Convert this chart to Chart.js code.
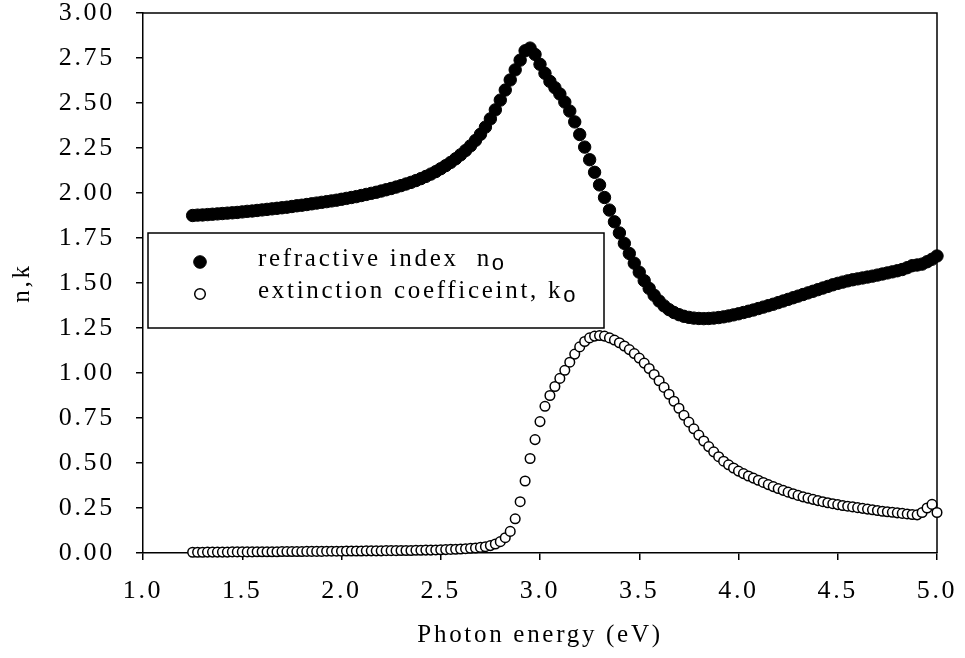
<!DOCTYPE html>
<html>
<head>
<meta charset="utf-8">
<script src="https://cdn.jsdelivr.net/npm/chart.js@4.4.1/dist/chart.umd.min.js"></script>
<style>
  html, body { margin: 0; padding: 0; background: #fff; }
  canvas { display: block; }
</style>
</head>
<body>
<canvas id="chart" width="965" height="658"></canvas>
<script>
// Photon energy grid (eV)
const photonEnergy = [
  1.250, 1.275, 1.300, 1.325, 1.350, 1.375, 1.400, 1.425, 1.450, 1.475,
  1.500, 1.525, 1.550, 1.575, 1.600, 1.625, 1.650, 1.675, 1.700, 1.725,
  1.750, 1.775, 1.800, 1.825, 1.850, 1.875, 1.900, 1.925, 1.950, 1.975,
  2.000, 2.025, 2.050, 2.075, 2.100, 2.125, 2.150, 2.175, 2.200, 2.225,
  2.250, 2.275, 2.300, 2.325, 2.350, 2.375, 2.400, 2.425, 2.450, 2.475,
  2.500, 2.525, 2.550, 2.575, 2.600, 2.625, 2.650, 2.675, 2.700, 2.725,
  2.750, 2.775, 2.800, 2.825, 2.850, 2.875, 2.900, 2.925, 2.950, 2.975,
  3.000, 3.025, 3.050, 3.075, 3.100, 3.125, 3.150, 3.175, 3.200, 3.225,
  3.250, 3.275, 3.300, 3.325, 3.350, 3.375, 3.400, 3.425, 3.450, 3.475,
  3.500, 3.525, 3.550, 3.575, 3.600, 3.625, 3.650, 3.675, 3.700, 3.725,
  3.750, 3.775, 3.800, 3.825, 3.850, 3.875, 3.900, 3.925, 3.950, 3.975,
  4.000, 4.025, 4.050, 4.075, 4.100, 4.125, 4.150, 4.175, 4.200, 4.225,
  4.250, 4.275, 4.300, 4.325, 4.350, 4.375, 4.400, 4.425, 4.450, 4.475,
  4.500, 4.525, 4.550, 4.575, 4.600, 4.625, 4.650, 4.675, 4.700, 4.725,
  4.750, 4.775, 4.800, 4.825, 4.850, 4.875, 4.900, 4.925, 4.950, 4.975,
  5.000
];

// Ordinary refractive index n_o
const refractiveIndex = [
  1.875, 1.877, 1.878, 1.880, 1.882, 1.884, 1.886, 1.888, 1.890, 1.892,
  1.895, 1.898, 1.900, 1.903, 1.906, 1.909, 1.912, 1.915, 1.918, 1.921,
  1.925, 1.929, 1.932, 1.936, 1.940, 1.944, 1.948, 1.952, 1.956, 1.960,
  1.965, 1.970, 1.975, 1.980, 1.986, 1.992, 1.998, 2.004, 2.011, 2.018,
  2.025, 2.033, 2.041, 2.050, 2.059, 2.069, 2.080, 2.092, 2.105, 2.119,
  2.135, 2.152, 2.170, 2.190, 2.212, 2.236, 2.262, 2.292, 2.326, 2.366,
  2.412, 2.462, 2.516, 2.572, 2.628, 2.684, 2.738, 2.790, 2.805, 2.770,
  2.715, 2.665, 2.620, 2.585, 2.550, 2.505, 2.455, 2.395, 2.325, 2.255,
  2.185, 2.115, 2.045, 1.975, 1.905, 1.840, 1.778, 1.720, 1.664, 1.610,
  1.560, 1.513, 1.470, 1.432, 1.400, 1.373, 1.352, 1.336, 1.324, 1.315,
  1.309, 1.305, 1.303, 1.302, 1.303, 1.305, 1.308, 1.312, 1.317, 1.323,
  1.329, 1.336, 1.343, 1.350, 1.358, 1.366, 1.374, 1.382, 1.391, 1.400,
  1.409, 1.418, 1.427, 1.436, 1.445, 1.454, 1.463, 1.472, 1.481, 1.490,
  1.498, 1.505, 1.512, 1.518, 1.523, 1.528, 1.533, 1.538, 1.544, 1.550,
  1.556, 1.562, 1.568, 1.575, 1.585, 1.596, 1.600, 1.605, 1.618, 1.632,
  1.650
];

// Ordinary extinction coefficient k_o
const extinctionCoeff = [
  0.004, 0.004, 0.004, 0.005, 0.005, 0.005, 0.005, 0.005, 0.006, 0.006,
  0.006, 0.006, 0.006, 0.007, 0.007, 0.007, 0.007, 0.007, 0.008, 0.008,
  0.008, 0.008, 0.008, 0.009, 0.009, 0.009, 0.009, 0.010, 0.010, 0.010,
  0.010, 0.011, 0.011, 0.011, 0.011, 0.012, 0.012, 0.012, 0.012, 0.013,
  0.013, 0.013, 0.014, 0.014, 0.014, 0.015, 0.015, 0.016, 0.016, 0.017,
  0.018, 0.019, 0.020, 0.021, 0.022, 0.024, 0.026, 0.028, 0.031, 0.035,
  0.041, 0.050, 0.063, 0.085, 0.120, 0.190, 0.285, 0.400, 0.525, 0.630,
  0.730, 0.815, 0.875, 0.925, 0.970, 1.015, 1.060, 1.105, 1.145, 1.175,
  1.195, 1.205, 1.208, 1.205, 1.195, 1.183, 1.168, 1.150, 1.130, 1.108,
  1.083, 1.055, 1.025, 0.992, 0.957, 0.920, 0.882, 0.843, 0.804, 0.765,
  0.727, 0.690, 0.655, 0.622, 0.591, 0.562, 0.535, 0.510, 0.490, 0.472,
  0.455, 0.441, 0.428, 0.416, 0.404, 0.392, 0.380, 0.369, 0.358, 0.348,
  0.338, 0.329, 0.320, 0.312, 0.305, 0.298, 0.291, 0.285, 0.279, 0.274,
  0.269, 0.264, 0.260, 0.256, 0.252, 0.248, 0.244, 0.240, 0.236, 0.232,
  0.229, 0.226, 0.223, 0.220, 0.217, 0.214, 0.212, 0.225, 0.250, 0.270,
  0.225
];

// Axis tick values
const xTickValues = [1.0, 1.5, 2.0, 2.5, 3.0, 3.5, 4.0, 4.5, 5.0];
const yTickValues = [0, 0.25, 0.5, 0.75, 1.0, 1.25, 1.5, 1.75, 2.0, 2.25, 2.5, 2.75, 3.0];

// Legend entries: main label plus subscript
const legendLabels = ['refractive index  n', 'extinction coefficeint, k'];
const legendSubscripts = ['o', 'o'];

const SERIF = "'Liberation Serif', 'Times New Roman', serif";
const SPACING = '2.7px';

const toPoints = (ys) => photonEnergy.map((x, i) => ({ x, y: ys[i] }));

// Scale boxes are sized by hand; no extra room for overhanging end labels
function fixBox(scale, w, h) {
  if (w !== null) scale.width = w;
  if (h !== null) scale.height = h;
  scale.paddingTop = 0;
  scale.paddingBottom = 0;
  scale.paddingLeft = 0;
  scale.paddingRight = 0;
}

// Wide letter spacing for all canvas text
const spacingPlugin = {
  id: 'spacing',
  beforeLayout(chart) { chart.ctx.letterSpacing = SPACING; },
  beforeDraw(chart) { chart.ctx.letterSpacing = SPACING; }
};

// Top and right edges of the plot frame
const framePlugin = {
  id: 'frame',
  beforeDatasetsDraw(chart) {
    const { ctx, chartArea: a } = chart;
    ctx.save();
    ctx.strokeStyle = '#000';
    ctx.lineWidth = 1.5;
    ctx.beginPath();
    ctx.moveTo(a.left, a.top);
    ctx.lineTo(a.right, a.top);
    ctx.lineTo(a.right, a.bottom);
    ctx.stroke();
    ctx.restore();
  }
};

// Boxed legend inside the plot
const legendPlugin = {
  id: 'boxLegend',
  afterDatasetsDraw(chart) {
    const { ctx } = chart;
    const box = { x: 148, y: 233, w: 456, h: 95 };
    const rows = [262, 294];
    ctx.save();
    ctx.letterSpacing = SPACING;
    ctx.fillStyle = '#fff';
    ctx.fillRect(box.x, box.y, box.w, box.h);
    ctx.strokeStyle = '#000';
    ctx.lineWidth = 1.5;
    ctx.strokeRect(box.x, box.y, box.w, box.h);

    chart.data.datasets.forEach((ds, i) => {
      const cy = rows[i];
      ctx.beginPath();
      ctx.arc(200, cy, i === 0 ? 6.3 : 5.3, 0, Math.PI * 2);
      ctx.fillStyle = ds.backgroundColor;
      ctx.fill();
      ctx.lineWidth = ds.borderWidth;
      ctx.strokeStyle = '#000';
      ctx.stroke();

      ctx.fillStyle = '#000';
      ctx.textBaseline = 'alphabetic';
      ctx.textAlign = 'left';
      ctx.font = '25px ' + SERIF;
      const base = cy + 4;
      ctx.fillText(legendLabels[i], 258, base);
      const w = ctx.measureText(legendLabels[i]).width;
      ctx.font = "22px 'Liberation Sans', Arial, sans-serif";
      ctx.fillText(legendSubscripts[i], 258 + w, base + 4);
    });
    ctx.restore();
  }
};

new Chart(document.getElementById('chart'), {
  type: 'scatter',
  data: {
    datasets: [
      {
        label: 'refractive index no',
        data: toPoints(refractiveIndex),
        pointStyle: 'circle',
        pointRadius: 6.2,
        backgroundColor: '#000',
        borderColor: '#000',
        borderWidth: 1,
        clip: false
      },
      {
        label: 'extinction coefficeint, ko',
        data: toPoints(extinctionCoeff),
        pointStyle: 'circle',
        pointRadius: 4.8,
        backgroundColor: '#fff',
        borderColor: '#000',
        borderWidth: 1.5,
        clip: false
      }
    ]
  },
  options: {
    responsive: false,
    animation: false,
    events: [],
    layout: { padding: { top: 13, right: 28, left: 0, bottom: 0 } },
    plugins: {
      legend: { display: false },
      tooltip: { enabled: false }
    },
    scales: {
      x: {
        type: 'linear',
        min: 1,
        max: 5,
        afterBuildTicks(scale) { scale.ticks = xTickValues.map(v => ({ value: v })); },
        afterFit(scale) { fixBox(scale, null, 105); },
        ticks: {
          autoSkip: false,
          maxRotation: 0,
          padding: 16,
          color: '#000',
          font: { family: SERIF, size: 26 },
          callback: (v) => Number(v).toFixed(1)
        },
        grid: {
          drawOnChartArea: false,
          drawTicks: true,
          tickLength: 7,
          color: '#000',
          lineWidth: 1.5
        },
        border: { display: true, color: '#000', width: 1.5 },
        title: {
          display: true,
          text: 'Photon energy (eV)',
          color: '#000',
          font: { family: SERIF, size: 25 },
          padding: { top: 0, bottom: 8 }
        }
      },
      y: {
        type: 'linear',
        min: 0,
        max: 3,
        afterBuildTicks(scale) { scale.ticks = yTickValues.map(v => ({ value: v })); },
        afterFit(scale) { fixBox(scale, 143, null); },
        ticks: {
          autoSkip: false,
          padding: 21,
          color: '#000',
          font: { family: SERIF, size: 26 },
          callback: (v) => Number(v).toFixed(2)
        },
        grid: {
          drawOnChartArea: false,
          drawTicks: true,
          tickLength: 7,
          color: '#000',
          lineWidth: 1.5
        },
        border: { display: true, color: '#000', width: 1.5 },
        title: {
          display: true,
          text: 'n,k',
          color: '#000',
          font: { family: SERIF, size: 25 },
          padding: { top: 7, bottom: 0 }
        }
      }
    }
  },
  plugins: [spacingPlugin, framePlugin, legendPlugin]
});
</script>
</body>
</html>
